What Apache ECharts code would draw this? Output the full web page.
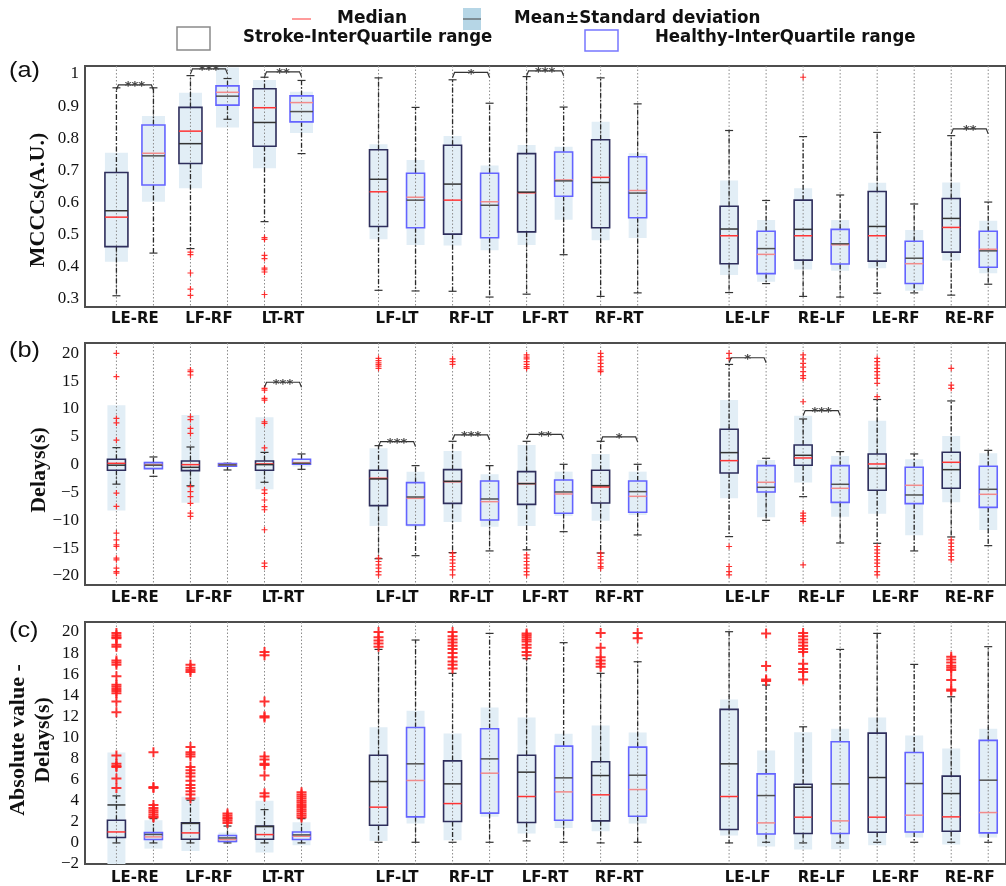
<!DOCTYPE html>
<html><head><meta charset="utf-8">
<script src="https://cdn.jsdelivr.net/npm/echarts@6/dist/echarts.min.js"></script>
<style>html,body{margin:0;padding:0;background:#fff}#c{width:1006px;height:886px}</style>
</head><body><div id="c"></div>
<script>
// ---------- categories ----------
const pairs = ['LE-RE','LF-RF','LT-RT','LF-LT','RF-LT','LF-RT','RF-RT','LE-LF','RE-LF','LE-RF','RE-RF'];
const groupOf = [0,0,0,1,1,1,1,2,2,2,2];

// ---------- tick labels ----------
const aTicks = [0.3,0.4,0.5,0.6,0.7,0.8,0.9,1];
const bTicks = [-20,-15,-10,-5,0,5,10,15,20];
const cTicks = [-2,0,2,4,6,8,10,12,14,16,18,20];

// row: [whiskerLow, Q1, median, Q3, whiskerHigh, mean, mean-SD, mean+SD]
// ---------- panel (a) MCCCs ----------
const aStroke = [
  [0.309,0.462,0.554,0.693,0.957,0.574,0.415,0.755],
  [0.456,0.721,0.822,0.896,0.995,0.783,0.644,0.942],
  [0.540,0.775,0.895,0.954,0.990,0.849,0.706,0.981],
  [0.326,0.525,0.633,0.764,0.988,0.672,0.485,0.781],
  [0.323,0.501,0.607,0.778,0.982,0.657,0.466,0.807],
  [0.314,0.508,0.630,0.752,0.992,0.632,0.467,0.779],
  [0.307,0.521,0.678,0.795,0.988,0.662,0.482,0.851],
  [0.319,0.409,0.496,0.588,0.824,0.517,0.374,0.668],
  [0.307,0.420,0.496,0.607,0.805,0.516,0.391,0.644],
  [0.317,0.417,0.496,0.634,0.818,0.525,0.395,0.661],
  [0.311,0.445,0.522,0.612,0.808,0.550,0.419,0.662]
];
const aHealthy = [
  [0.442,0.654,0.753,0.841,0.957,0.745,0.602,0.869],
  [0.859,0.903,0.943,0.963,0.986,0.931,0.833,1.020],
  [0.752,0.851,0.911,0.932,0.980,0.883,0.816,0.945],
  [0.324,0.521,0.616,0.691,0.896,0.607,0.467,0.732],
  [0.305,0.490,0.602,0.691,0.909,0.591,0.451,0.715],
  [0.437,0.619,0.670,0.757,0.897,0.667,0.546,0.773],
  [0.318,0.552,0.637,0.742,0.907,0.629,0.489,0.753],
  [0.347,0.378,0.438,0.510,0.606,0.456,0.353,0.545],
  [0.305,0.408,0.468,0.516,0.623,0.471,0.387,0.545],
  [0.318,0.347,0.409,0.479,0.595,0.426,0.325,0.514],
  [0.345,0.398,0.454,0.510,0.601,0.449,0.379,0.543]
];
const aStrokeOut = [[],[0.445,0.437,0.38,0.33,0.31],[0.49,0.485,0.435,0.425,0.395,0.39,0.383,0.313],[],[],[],[],[],[0.99],[],[]];
const aHealthyOut = [[],[],[],[],[],[],[],[],[],[],[]];
const aSig = [[0,0.966,'***'],[1,1.016,'***'],[2,1.007,'**'],[4,1.005,'*'],[5,1.010,'***'],[10,0.829,'**']];

// ---------- panel (b) Delays ----------
const bStroke = [
  [-3.5,-1.02,0.24,0.96,3.05,-0.1,-8.26,10.66],
  [-3.8,-1.08,0,0.66,3.17,-0.48,-6.83,8.92],
  [-3.17,-1.02,0.12,0.66,2.2,0,-4.43,8.5],
  [-16.9,-7.37,-2.46,-1.02,3.41,-2.57,-11.0,2.93],
  [-15.8,-6.95,-3.05,-0.9,4.19,-3.0,-10.3,2.46],
  [-15.3,-7.13,-3.41,-1.26,4.19,-3.41,-11.0,3.53],
  [-15.87,-6.89,-4.01,-1.02,4.19,-3.77,-10.1,1.92],
  [-12.93,-1.5,0.72,6.35,18.0,2.16,-6.05,11.62],
  [-5.75,-0.12,1.2,3.53,8.2,1.68,-3.23,8.8],
  [-14.13,-4.61,0.12,1.92,11.7,-0.66,-8.8,7.9],
  [-12.99,-4.25,0.42,2.22,11.44,-0.9,-6.77,5.15]
];
const bHealthy = [
  [-2.1,-0.72,0,0.36,1.38,-0.1,-0.84,0.6],
  [-0.96,-0.3,0,0.18,0.24,-0.05,-0.4,0.3],
  [-0.84,0.06,0.36,0.96,1.92,0.24,-0.36,1.08],
  [-16.35,-10.85,-6.05,-3.23,-0.18,-5.81,-11.14,-1.26],
  [-15.5,-9.94,-6.65,-2.93,-0.18,-6.17,-11.14,-1.74],
  [-12.04,-8.74,-5.27,-2.75,0.06,-4.91,-9.22,-1.26],
  [-12.63,-8.56,-5.69,-2.93,0.06,-4.85,-9.04,-1.26],
  [-10.0,-4.91,-3.17,-0.18,1.14,-4.07,-9.46,0.84],
  [-14.07,-6.77,-4.25,-0.18,2.34,-3.53,-9.34,1.56],
  [-15.5,-7.01,-3.71,-0.48,1.92,-5.45,-12.7,0.96],
  [-14.55,-7.67,-5.33,-0.3,2.57,-4.43,-11.74,2.04]
];
const bStrokeOut = [
  [20,15.8,8.3,7.5,4.4,-5.1,-7.5,-12.3,-13.5,-14.4,-14.7,-16.8,-17.1,-18.6,-19.2,-19.5],
  [17.0,16.7,16.1,8.6,8.1,6.5,5.6,-3.95,-4.85,-5.75,-6.95,-8.7,-9.3],
  [13.7,13.4,11.9,11.6,7.7,7.4,3.0,-4.55,-5.15,-6.35,-7.55,-8.1,-11.7,-17.7,-18.3],
  [19.1,18.7,18.3,18.0,17.7,17.3,-16.8,-17.4,-18.0,-18.6,-19.2,-19.8],
  [19.0,18.5,18.0,-15.9,-16.5,-17.1,-17.7,-18.3,-18.9,-19.8],
  [19.7,19.3,19.0,18.5,18.0,17.6,17.3,-16.2,-16.8,-17.4,-18.0,-18.6,-19.2,-19.8],
  [20,19.4,18.8,18.2,17.6,17.0,16.7,-15.9,-16.5,-17.1,-17.7,-18.3,-18.6],
  [20,19.1,-14.7,-18.3,-19.2,-19.8],
  [19.7,19.0,18.2,17.5,16.7,16.0,15.5,11.3,-8.7,-9.2,-9.7,-10.2,-18.0],
  [19.1,18.5,17.9,17.3,16.7,16.1,15.5,14.6,12.2,-14.7,-15.3,-15.9,-16.5,-17.1,-17.7,-18.3,-19.2,-19.8],
  [17.3,14.3,13.7,-13.5,-14.1,-14.7,-15.3,-15.9,-16.5,-17.1]
];
const bHealthyOut = [[],[],[],[],[],[],[],[],[],[],[]];
const bSig = [[2,14.8,'***'],[3,4.13,'***'],[4,5.33,'***'],[5,5.45,'**'],[6,4.97,'*'],[7,19.2,'*'],[8,9.7,'***']];

// ---------- panel (c) Absolute value - Delays ----------
const cStroke = [
  [0,0.51,1.04,2.15,4.46,3.6,-2.0,8.58],
  [0,0.35,0.95,1.9,4.05,1.85,-0.76,4.37],
  [0,0.35,0.79,1.61,3.16,1.55,-0.92,3.99],
  [0.06,1.68,3.39,8.32,18.35,5.82,0.19,10.98],
  [0.06,2.03,3.73,7.78,16.08,5.6,0.25,10.38],
  [0.19,1.93,4.4,8.32,17.47,6.71,0.89,11.9],
  [0,2.09,4.56,7.69,16.08,6.39,1.11,11.14],
  [0,1.27,4.4,12.66,20.03,7.5,0.7,13.6],
  [0,0.89,2.44,5.57,11.01,5.28,-0.63,10.5],
  [0.06,1.01,2.44,10.41,19.87,6.2,-0.22,11.9],
  [0.06,1.11,2.47,6.33,13.86,4.68,-0.16,8.96]
];
const cHealthy = [
  [0,0.32,0.57,0.98,2.3,0.8,-0.54,2.15],
  [0,0.13,0.32,0.7,1.6,0.47,0,0.98],
  [0,0.32,0.63,1.04,2.3,0.76,-0.22,1.96],
  [0.06,2.47,5.92,10.95,19.24,7.5,1.84,12.53],
  [0.06,2.82,6.61,10.82,19.87,7.97,2.47,12.85],
  [0.06,2.15,4.84,9.18,18.99,6.17,1.42,10.35],
  [0.06,2.53,5.06,9.08,17.18,6.42,1.84,10.47],
  [0.06,0.85,1.9,6.55,14.97,4.49,-0.35,8.77],
  [0,0.89,2.09,9.59,18.35,5.6,-0.6,10.82],
  [0.06,1.04,2.63,8.58,16.93,5.63,0.51,10.19],
  [0.06,0.95,2.88,9.72,18.61,5.95,0.51,10.82]
];
const cStrokeOut = [
  [19.9,19.7,19.5,19.4,18.8,18.6,17.3,17.1,16.9,15.8,15.0,14.8,14.6,14.4,14.2,13.4,12.4,8.3,7.5,7.3,7.2,6.1,5.2],
  [16.9,16.6,16.4,16.2,9.1,8.6,8.4,8.2,7.2,6.9,6.6,6.3,5.9,5.5,5.2,4.9,4.6,4.2],
  [18.1,17.8,13.4,12.0,11.9,8.2,7.9,7.5,7.4,6.4,4.7,4.4],
  [20.0,19.5,19.2,18.9,18.6],
  [20.0,19.6,19.3,19.0,18.7,18.4,18.0,17.6,17.2,16.9,16.55],
  [19.87,19.7,19.5,19.3,19.1,18.8,18.5,18.1,17.8],
  [19.9,18.5,17.6,17.3,17.0,16.7],
  [],
  [19.9,19.6,19.3,19.0,18.7,18.4,18.1,17.0,16.5,16.2,15.5],
  [],
  [17.66,17.4,17.1,16.8,16.6,16.4,15.44,14.56,14.43]
];
const cHealthyOut = [
  [8.6,5.3,5.2,3.6,3.3,3.1,2.9,2.7,2.5,2.4],
  [2.8,2.6,2.4,2.3,2.1,1.9],
  [4.8,4.6,4.4,4.2,4.0,3.8,3.6,3.4,3.2,3.0,2.8,2.6,2.4],
  [],[],[],
  [19.9,19.4],
  [19.87,16.77,15.5,15.35],
  [],[],[]
];
const cSig = [];

// ---------- layout helpers ----------
const GROUP_START = [0, 7.08, 16.55];
function pairX(i){ const g = groupOf[i]; return GROUP_START[g] + 2*(i - groupOf.indexOf(g)); }
const XMIN = -0.849, XMAX = 24.03;

const panels = [
  {stroke:aStroke, healthy:aHealthy, sOut:aStrokeOut, hOut:aHealthyOut, sig:aSig, ticks:aTicks, min:0.274, max:1.025, top:66, height:241, sym:6, lm:5},
  {stroke:bStroke, healthy:bHealthy, sOut:bStrokeOut, hOut:bHealthyOut, sig:bSig, ticks:bTicks, min:-21.62, max:21.85, top:343, height:242, sym:6, lm:6},
  {stroke:cStroke, healthy:cHealthy, sOut:cStrokeOut, hOut:cHealthyOut, sig:cSig, ticks:cTicks, min:-2, max:20.95, top:622, height:242, sym:10, lm:7}
];

function fmtTick(v){ return v < 0 ? '\u2212' + Math.abs(v) : String(v); }

function makeRenderBox(p){
  return function(params, api){
    const cs = params.coordSys;
    const x = api.value(0), g = api.value(9), i = api.value(10);
    const v = [1,2,3,4,5,6,7,8].map(k => api.value(k));
    const [low,q1,med,q3,high,mean,sdLo,sdHi] = v;
    const px = api.coord([x, med])[0];
    const Y = val => api.coord([x, val])[1];
    const top = cs.y, bot = cs.y + cs.height;
    const cl = y => Math.max(top, Math.min(bot, y));
    const w = (p === 0 && i < 3) ? 23 : 18, hw = w/2;
    const ch = [];
    const ya = cl(Y(sdHi)), yb = cl(Y(sdLo));
    ch.push({type:'rect', shape:{x:px-hw, y:ya, width:w, height:yb-ya}, style:{fill:'#e2eef6'}});
    ch.push({type:'line', shape:{x1:px, y1:top, x2:px, y2:bot}, style:{stroke:'#8c8c8c', lineWidth:1, lineDash:[1.5,2]}});
    const ws = {stroke:'#2a2a2a', lineWidth:1.3, lineDash:[5,2,1.5,2]};
    ch.push({type:'line', shape:{x1:px, y1:Y(q3), x2:px, y2:Y(high)}, style:ws});
    ch.push({type:'line', shape:{x1:px, y1:Y(q1), x2:px, y2:Y(low)}, style:ws});
    const cap = {stroke:'#333', lineWidth:1.2};
    ch.push({type:'line', shape:{x1:px-4, y1:Y(high), x2:px+4, y2:Y(high)}, style:cap});
    ch.push({type:'line', shape:{x1:px-4, y1:Y(low), x2:px+4, y2:Y(low)}, style:cap});
    ch.push({type:'rect', shape:{x:px-hw, y:Y(q3), width:w, height:Y(q1)-Y(q3)},
      style:{fill:'none', stroke: g ? '#6464ff' : '#2e2e5c', lineWidth:1.6}});
    ch.push({type:'line', shape:{x1:px-hw, y1:Y(med), x2:px+hw, y2:Y(med)}, style:{stroke: g ? '#f28b8b' : '#ff3434', lineWidth:1.5}});
    ch.push({type:'line', shape:{x1:px-hw, y1:Y(mean), x2:px+hw, y2:Y(mean)}, style:{stroke: g ? '#505050' : '#333', lineWidth:1.5}});
    return {type:'group', children:ch};
  };
}

function makeRenderSig(sig){
  return function(params, api){
    const i = api.value(0), y = api.value(1);
    const sx = pairX(i), hx = sx + 1;
    const p1 = api.coord([sx, y]), p2 = api.coord([hx, y]);
    const d = 5;
    return {type:'group', children:[
      {type:'polyline', shape:{points:[[p1[0], p1[1]+d],[p1[0]+2, p1[1]],[p2[0]-2, p2[1]],[p2[0], p2[1]+d]]},
        style:{stroke:'#333', lineWidth:1.2, fill:null}},
      {type:'text', x:(p1[0]+p2[0])/2, y:p1[1]+2, style:{text:sig[params.dataIndex][2], font:'bold 13px "DejaVu Sans"', fill:'#444', align:'center', verticalAlign:'middle'}}
    ]};
  };
}

const PLUS = 'path://M-1,-0.2H1V0.2H-1Z M-0.2,-1H0.2V1H-0.2Z';
const mids = pairs.map((_, i) => pairX(i) + 0.5);

const grid = [], xAxis = [], yAxis = [], series = [];
panels.forEach((P, p) => {
  grid.push({left:85, top:P.top, width:925, height:P.height, show:true, borderColor:'#4e4e4e', borderWidth:2});
  xAxis.push({gridIndex:p, type:'value', min:XMIN, max:XMAX,
    axisLine:{show:false}, axisTick:{show:false}, splitLine:{show:false},
    axisLabel:{customValues:mids, margin:P.lm, color:'#111', fontFamily:'DejaVu Sans', fontWeight:'bold', fontSize:15,
      formatter: v => { let b = 0; mids.forEach((m, k) => { if (Math.abs(m - v) < Math.abs(mids[b] - v)) b = k; }); return pairs[b]; }}});
  yAxis.push({gridIndex:p, type:'value', min:P.min, max:P.max,
    axisLine:{show:false}, axisTick:{show:false}, splitLine:{show:false},
    axisLabel:{customValues:P.ticks, margin:6, color:'#111', fontFamily:'Liberation Serif', fontSize:17, formatter: fmtTick}});
  const boxData = [];
  P.stroke.forEach((r, i) => boxData.push([pairX(i)].concat(r, [0, i])));
  P.healthy.forEach((r, i) => boxData.push([pairX(i) + 1].concat(r, [1, i])));
  series.push({type:'custom', xAxisIndex:p, yAxisIndex:p, z:2, renderItem:makeRenderBox(p), data:boxData, silent:true});
  const out = [];
  P.sOut.forEach((arr, i) => arr.forEach(v => out.push([pairX(i), v])));
  P.hOut.forEach((arr, i) => arr.forEach(v => out.push([pairX(i) + 1, v])));
  series.push({type:'scatter', xAxisIndex:p, yAxisIndex:p, z:3, symbol:PLUS, symbolSize:P.sym,
    itemStyle:{color:'#ff1e1e', opacity:0.9}, data:out, silent:true, animation:false});
  if (P.sig.length) series.push({type:'custom', xAxisIndex:p, yAxisIndex:p, z:4, renderItem:makeRenderSig(P.sig),
    data:P.sig.map(s => [s[0], s[1]]), silent:true});
});

const LF = 'bold 17px "DejaVu Sans"';
const graphic = [
  // legend
  {type:'line', shape:{x1:292, y1:19, x2:311, y2:19}, style:{stroke:'#ff7a7a', lineWidth:1.5}},
  {type:'text', x:337, y:19, style:{text:'Median', font:LF, fill:'#111', verticalAlign:'middle'}},
  {type:'rect', shape:{x:463, y:8, width:18, height:22}, style:{fill:'#b6d6e6'}},
  {type:'line', shape:{x1:463, y1:19, x2:481, y2:19}, style:{stroke:'#6a7378', lineWidth:1.5}},
  {type:'text', x:514, y:19, scaleX:0.985, style:{text:'Mean\u00b1Standard deviation', font:LF, fill:'#111', verticalAlign:'middle'}},
  {type:'rect', shape:{x:177, y:27, width:33, height:23}, style:{fill:'none', stroke:'#8a8a8a', lineWidth:1.5}},
  {type:'text', x:243, y:38, scaleX:0.975, style:{text:'Stroke-InterQuartile range', font:LF, fill:'#111', verticalAlign:'middle'}},
  {type:'rect', shape:{x:585, y:30, width:33, height:21}, style:{fill:'none', stroke:'#7777ff', lineWidth:1.5}},
  {type:'text', x:655, y:38, scaleX:0.975, style:{text:'Healthy-InterQuartile range', font:LF, fill:'#111', verticalAlign:'middle'}},
  // panel letters
  {type:'text', x:9, y:71, scaleX:1.15, style:{text:'(a)', font:'22px "Liberation Sans"', fill:'#111', verticalAlign:'middle'}},
  {type:'text', x:9, y:351, scaleX:1.15, style:{text:'(b)', font:'22px "Liberation Sans"', fill:'#111', verticalAlign:'middle'}},
  {type:'text', x:9, y:631, scaleX:1.15, style:{text:'(c)', font:'22px "Liberation Sans"', fill:'#111', verticalAlign:'middle'}},
  // y-axis names
  {type:'text', x:38, y:200, rotation:Math.PI/2, style:{text:'MCCCs(A.U.)', font:'bold 22px "Liberation Serif"', fill:'#111', align:'center', verticalAlign:'middle'}},
  {type:'text', x:39, y:470, rotation:Math.PI/2, style:{text:'Delays(s)', font:'bold 22px "Liberation Serif"', fill:'#111', align:'center', verticalAlign:'middle'}},
  {type:'text', x:31, y:740, rotation:Math.PI/2, style:{text:'Absolute value -\nDelays(s)', font:'bold 22px "Liberation Serif"', lineHeight:25, fill:'#111', align:'center', verticalAlign:'middle'}}
];

const chart = echarts.init(document.getElementById('c'));
chart.setOption({backgroundColor:'#fff', animation:false, grid, xAxis, yAxis, series, graphic});
</script></body></html>
